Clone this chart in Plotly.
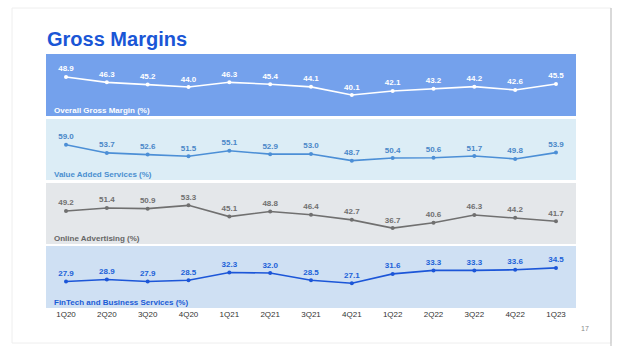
import plotly.graph_objects as go

quarters = ["1Q20", "2Q20", "3Q20", "4Q20", "1Q21", "2Q21", "3Q21", "4Q21",
            "1Q22", "2Q22", "3Q22", "4Q22", "1Q23"]
overall = [48.9, 46.3, 45.2, 44.0, 46.3, 45.4, 44.1, 40.1, 42.1, 43.2, 44.2, 42.6, 45.5]
vas = [59.0, 53.7, 52.6, 51.5, 55.1, 52.9, 53.0, 48.7, 50.4, 50.6, 51.7, 49.8, 53.9]
online_ad = [49.2, 51.4, 50.9, 53.3, 45.1, 48.8, 46.4, 42.7, 36.7, 40.6, 46.3, 44.2, 41.7]
fintech = [27.9, 28.9, 27.9, 28.5, 32.3, 32.0, 28.5, 27.1, 31.6, 33.3, 33.3, 33.6, 34.5]

panel_titles = ["Overall Gross Margin (%)", "Value Added Services (%)",
                "Online Advertising (%)", "FinTech and Business Services (%)"]
series = [overall, vas, online_ad, fintech]

W, H = 624, 353
L, R, T, B = 46, 576, 54, 308
ph = B - T

panels_px = [(54, 116), (119, 180), (183, 244), (246, 308)]
yranges = [[29.9, 60.1], [36.2, 75.6], [25.1, 69.6], [15.1, 45.1]]
bgs = ["#74A1EC", "#DCEDF6", "#E4E7EA", "#CFE0F3"]
line_cols = ["#FFFFFF", "#4C8FD6", "#707070", "#1C56D8"]
text_cols = ["#FFFFFF", "#4A87C8", "#707070", "#2060D8"]
title_cols = ["#FFFFFF", "#4A8FD0", "#666666", "#1A5BD6"]

FONT = "Liberation Sans, Arial, sans-serif"

fig = go.Figure()
x = list(range(len(quarters)))
shapes = []
annotations = []

for i, (vals, (y0, y1)) in enumerate(zip(series, panels_px)):
    ax = "" if i == 0 else str(i + 1)
    fig.add_trace(go.Scatter(
        x=x, y=vals, mode="lines+markers+text",
        text=[f"<b>{v:.1f}</b>" for v in vals], textposition="top center",
        textfont=dict(family=FONT, size=8, color=text_cols[i]),
        line=dict(color=line_cols[i], width=1.6),
        marker=dict(color=line_cols[i], size=4),
        xaxis="x" + ax, yaxis="y" + ax, showlegend=False, cliponaxis=False,
    ))
    dom = [(B - y1) / ph, (B - y0) / ph]
    fig.layout["yaxis" + ax] = dict(domain=dom, range=yranges[i], visible=False,
                                    fixedrange=True)
    fig.layout["xaxis" + ax] = dict(
        domain=[0, 1], range=[-0.49, 12.49], anchor="y" + ax,
        showgrid=False, zeroline=False, showline=False,
        tickmode="array", tickvals=x, ticktext=quarters,
        showticklabels=(i == 3), ticks="",
        tickfont=dict(family=FONT, size=8, color="#333333"),
    )
    shapes.append(dict(type="rect", xref="paper", yref="paper",
                       x0=0, x1=1, y0=dom[0], y1=dom[1],
                       fillcolor=bgs[i], line=dict(width=0), layer="below"))
    annotations.append(dict(
        text=f"<b>{panel_titles[i]}</b>", xref="paper", yref="paper",
        x=(52 - L) / (R - L), y=(B - (y1 - 6)) / ph, xanchor="left", yanchor="middle",
        showarrow=False, font=dict(family=FONT, size=8, color=title_cols[i])))

# slide frame
def px_x(p):
    return (p - L) / (R - L)

def px_y(p):
    return (B - p) / ph

shapes.append(dict(type="rect", xref="paper", yref="paper",
                   x0=px_x(12), x1=px_x(611), y0=px_y(343), y1=px_y(8),
                   line=dict(color="#EEEEEE", width=1), layer="below"))
shapes.append(dict(type="line", xref="paper", yref="paper",
                   x0=px_x(611), x1=px_x(611), y0=px_y(346), y1=px_y(8),
                   line=dict(color="#BBBBBB", width=1)))

annotations.append(dict(text="<b>Gross Margins</b>", xref="paper", yref="paper",
                        x=px_x(45), y=px_y(39), xanchor="left", yanchor="middle",
                        showarrow=False,
                        font=dict(family=FONT, size=20, color="#1A56D6")))
annotations.append(dict(text="17", xref="paper", yref="paper",
                        x=px_x(585), y=px_y(328), xanchor="center", yanchor="middle",
                        showarrow=False, font=dict(family=FONT, size=7, color="#888888")))

fig.update_layout(
    width=W, height=H,
    margin=dict(l=L, r=W - R, t=T, b=H - B, pad=0),
    paper_bgcolor="white", plot_bgcolor="rgba(0,0,0,0)",
    shapes=shapes, annotations=annotations,
    font=dict(family=FONT),
)

fig.write_html("out.html", config={"displayModeBar": False})
